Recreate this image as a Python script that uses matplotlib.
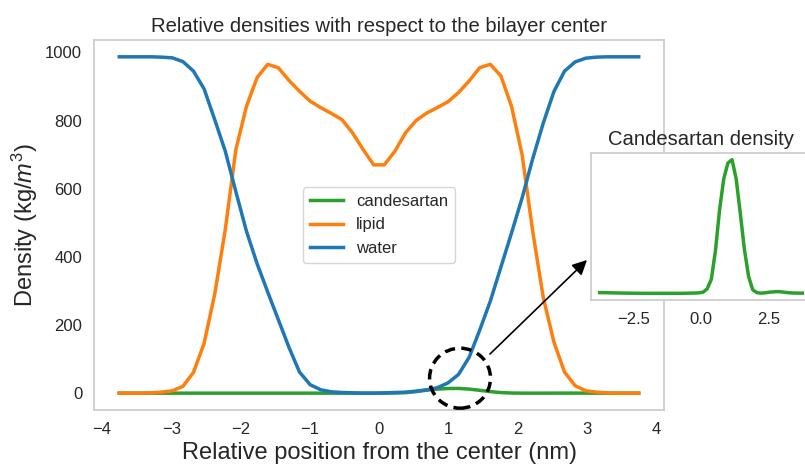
import numpy as np
import matplotlib
matplotlib.use("Agg")
import matplotlib.pyplot as plt
from matplotlib.patches import Ellipse

plt.rcParams['font.family'] = ['Liberation Sans', 'DejaVu Sans']
plt.rcParams['mathtext.fontset'] = 'custom'
plt.rcParams['mathtext.rm'] = 'Liberation Sans'
plt.rcParams['mathtext.it'] = 'Liberation Sans:italic'
plt.rcParams['text.color'] = '.15'
plt.rcParams['axes.labelcolor'] = '.15'
plt.rcParams['xtick.color'] = '.15'
plt.rcParams['ytick.color'] = '.15'
plt.rcParams['axes.edgecolor'] = '.8'
plt.rcParams['axes.linewidth'] = 1.25

# ---- data ----
position = np.linspace(-3.75, 3.75, 50)

lipid = [0, 0, 0, 1, 3, 7, 20, 61, 146, 290,
         480, 715, 842, 926, 965, 955, 918, 886, 857, 838,
         821, 803, 764, 715, 670, 670, 710, 764, 800, 822,
         838, 855, 882, 916, 955, 965, 931, 842, 700, 475,
         280, 150, 62, 22, 7, 3, 1, 0, 0, 0]

water = [987, 987, 987, 987, 986, 984, 973, 945, 893, 803,
         710, 591, 475, 380, 297, 216, 135, 62, 25, 10,
         4, 2, 1, 0, 0, 1, 2, 3, 6, 10,
         16, 30, 55, 105, 185, 270, 370, 470, 573, 688,
         793, 885, 945, 972, 983, 986, 987, 987, 987, 987]

candesartan = [0.1, 0.1, 0.09, 0.08, 0.07, 0.06, 0.05, 0.05, 0.04, 0.04,
               0.03, 0.03, 0.03, 0.03, 0.03, 0.03, 0.03, 0.03, 0.03, 0.03,
               0.03, 0.04, 0.05, 0.06, 0.08, 0.15, 0.5, 1.5, 4.5, 8.8,
               12.0, 13.65, 14.0, 12.0, 8.4, 4.6, 1.8, 0.4, 0.1, 0.05,
               0.08, 0.15, 0.18, 0.21, 0.18, 0.12, 0.08, 0.06, 0.05, 0.05]

W, H = 805, 465
fig = plt.figure(figsize=(W / 100, H / 100), dpi=100)

def fax(l, t, r, b):
    return [l / W, (H - b) / H, (r - l) / W, (b - t) / H]

ax = fig.add_axes(fax(94, 40, 664, 410))
ax.plot(position, candesartan, color='#2ca02c', lw=2.5, label='candesartan')
ax.plot(position, lipid, color='#ff7f0e', lw=2.5, label='lipid')
ax.plot(position, water, color='#1f77b4', lw=2.5, label='water')
ax.set_xlim(-4.115, 4.115)
ax.set_xticks([-4, -3, -2, -1, 0, 1, 2, 3, 4])
ax.set_yticks([0, 200, 400, 600, 800, 1000])
ax.tick_params(length=0, pad=8.5, labelsize=12)
ax.set_title('Relative densities with respect to the bilayer center', fontsize=14.6)
ax.set_xlabel('Relative position from the center (nm)', fontsize=17)
ax.set_ylabel('Density (kg/$m^3$)', fontsize=17)
ax.legend(loc='center', fontsize=12)

circ = Ellipse((1.17, 44), 0.88, 176, fill=False, ec='black', lw=2.5,
               ls=(0, (3, 1.8)), clip_on=False, zorder=5)
ax.add_patch(circ)

ax.annotate('', xy=(587, H - 260), xycoords='figure pixels',
            xytext=(490, H - 354), textcoords='figure pixels',
            arrowprops=dict(arrowstyle='-|>', color='black', lw=1.2,
                            mutation_scale=22, shrinkA=0, shrinkB=0))

ins = fig.add_axes(fax(591, 153, 811, 300))
ins.plot(position, candesartan, color='#2ca02c', lw=2.5)
ins.set_xlim(-4.07, 4.07)
ins.set_xticks([-2.5, 0.0, 2.5])
ins.set_xticklabels(['\u22122.5', '0.0', '2.5'])
ins.set_yticks([])
ins.tick_params(length=0, pad=8.5, labelsize=12)
ins.set_title('Candesartan density', fontsize=14.6)

fig.savefig('out.png', dpi=100)
